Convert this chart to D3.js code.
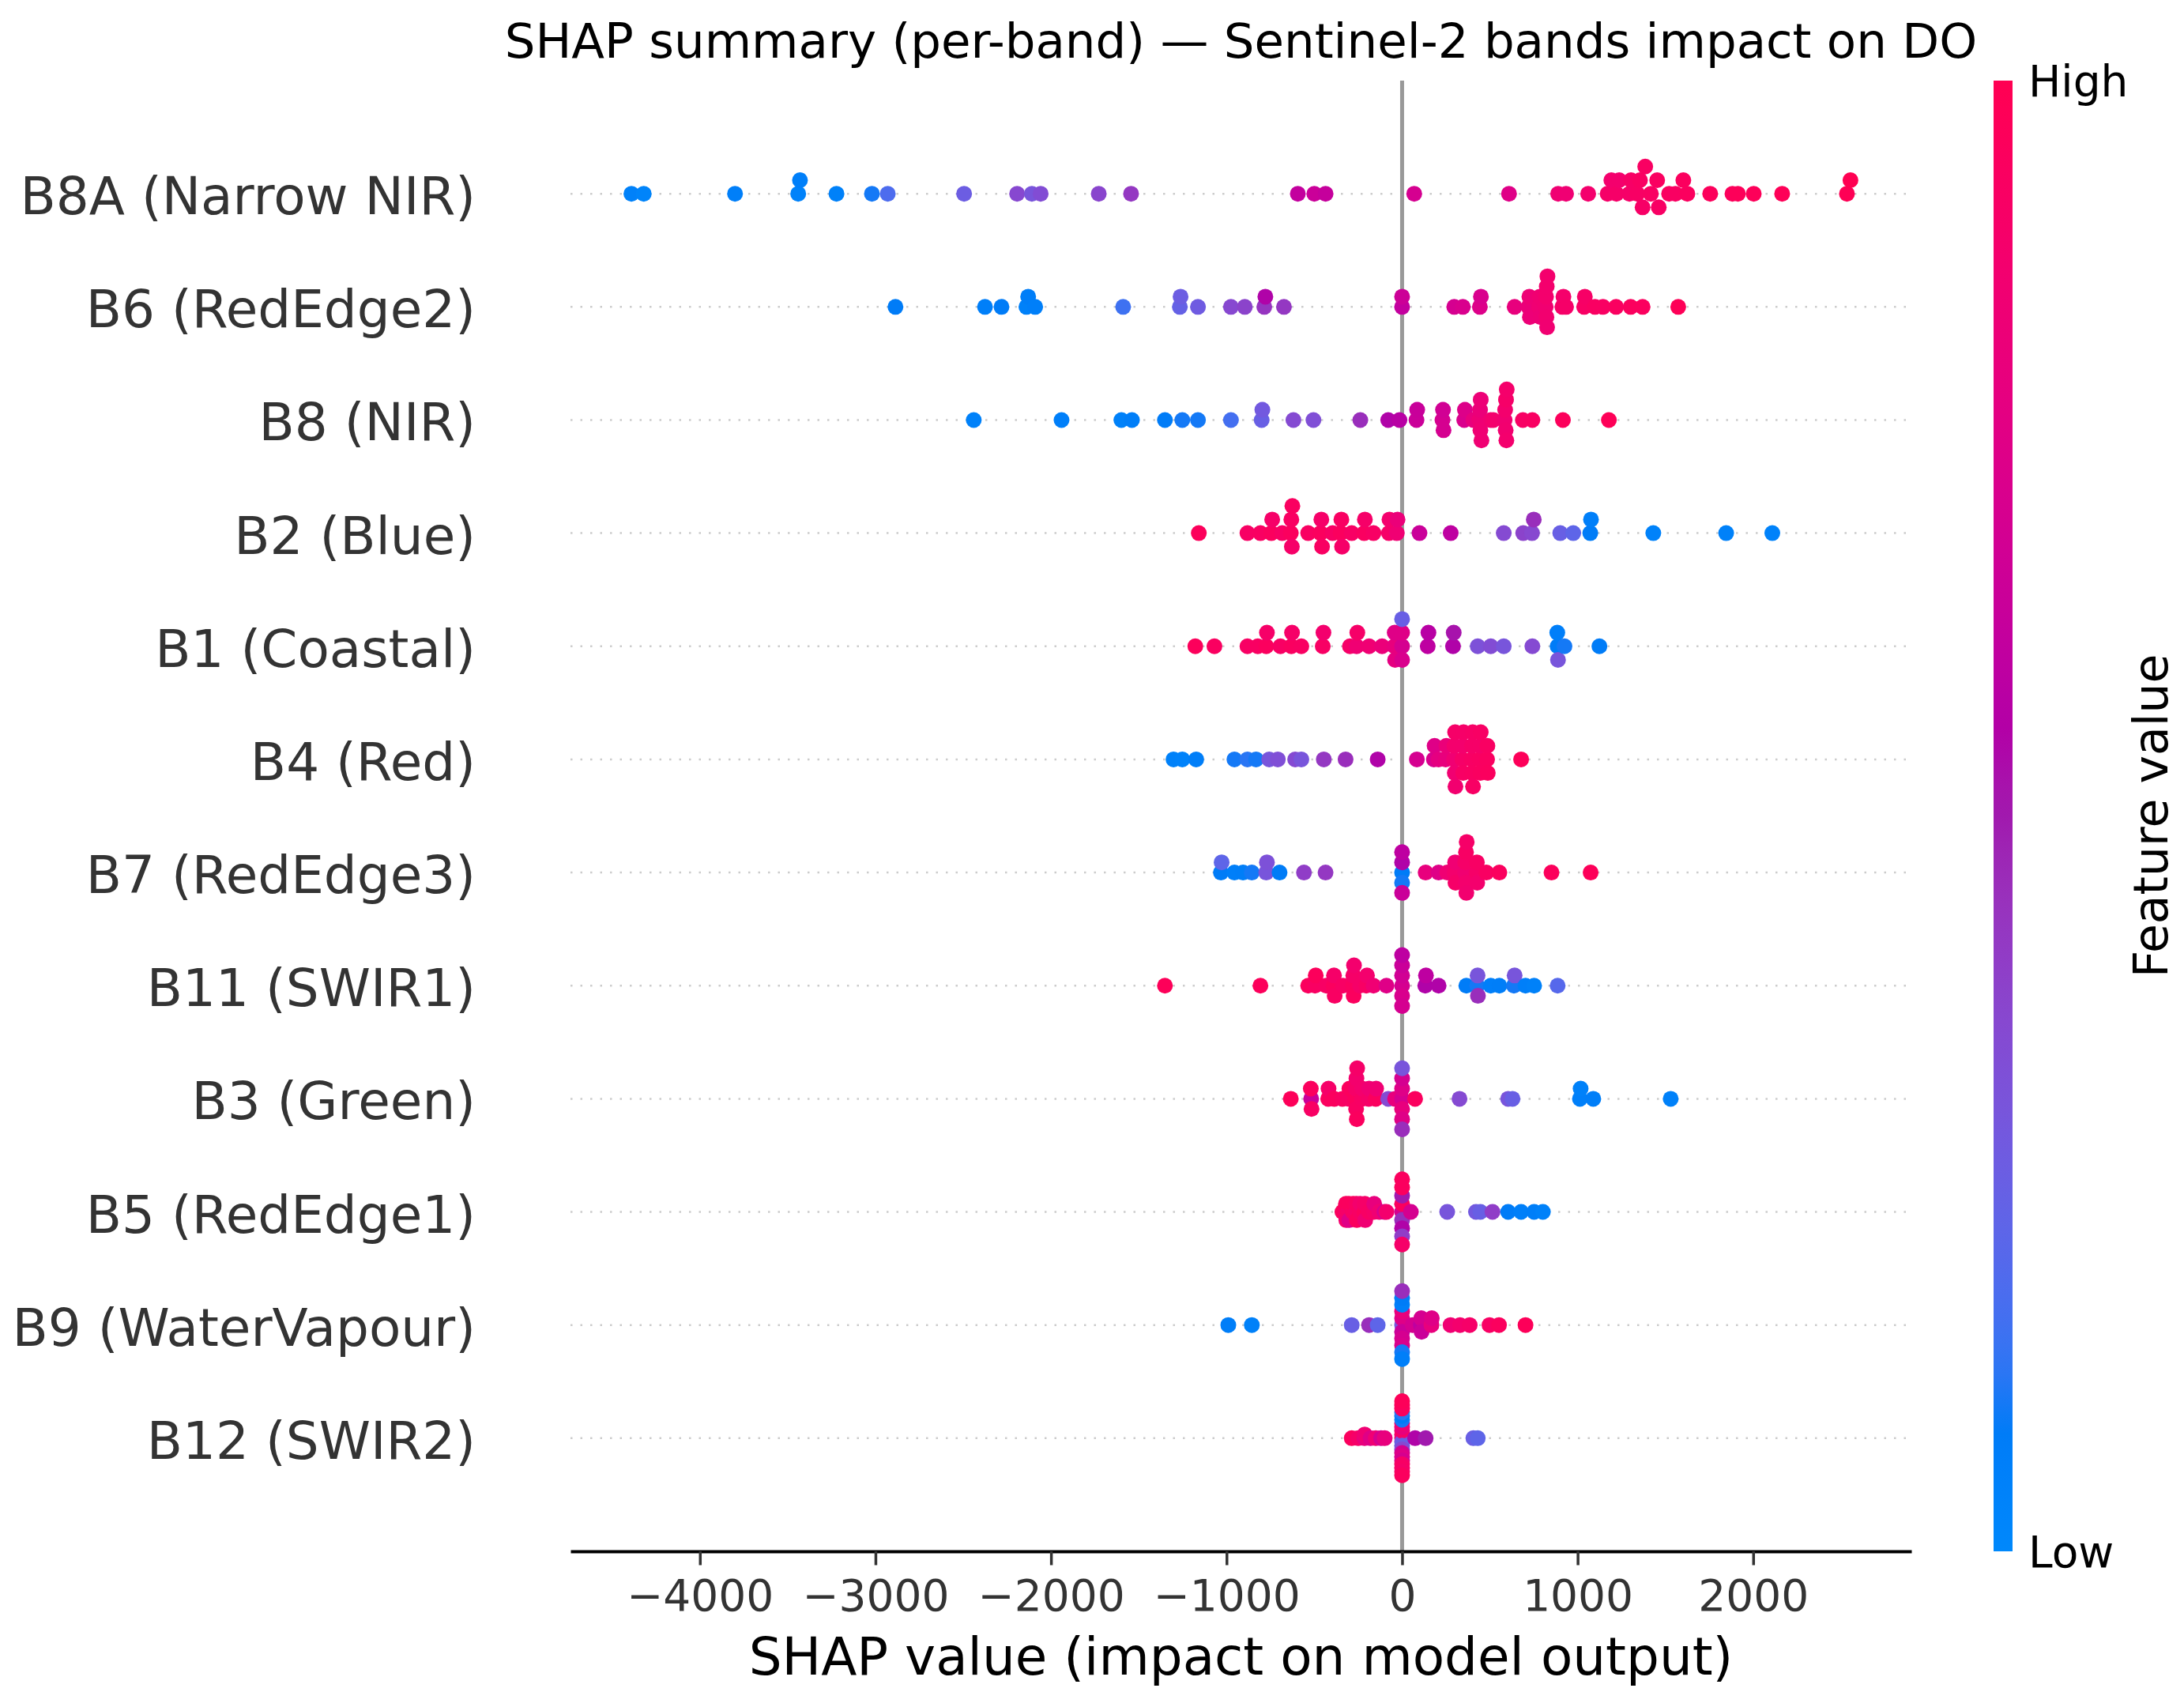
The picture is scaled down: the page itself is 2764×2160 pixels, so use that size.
<!DOCTYPE html>
<html>
<head>
<meta charset="utf-8">
<script src="https://cdn.jsdelivr.net/npm/d3@7"></script>
<style>
  body { margin: 0; background: #fff; }
  svg { display: block; }
  text { font-family: 'DejaVu Sans', sans-serif; }
</style>
</head>
<body>
<div id="chart"></div>
<script>
/* SHAP summary (beeswarm) — per-band SHAP values, Sentinel-2 bands vs DO.
   Each point: [shap value, normalised feature value 0..1]. */

const BANDS = [
  'B8A (Narrow NIR)', 'B6 (RedEdge2)', 'B8 (NIR)', 'B2 (Blue)',
  'B1 (Coastal)', 'B4 (Red)', 'B7 (RedEdge3)', 'B11 (SWIR1)',
  'B3 (Green)', 'B5 (RedEdge1)', 'B9 (WaterVapour)', 'B12 (SWIR2)'
];

const X_TICKS = [-4000, -3000, -2000, -1000, 0, 1000, 2000];
const COLORBAR_LABELS = ['Low', 'High'];

const B8A_POINTS = [
  [-4390, 0.05], [-4320, 0.03], [-3800, 0.06], [-3440, 0.04], [-3430, 0.06], [-3222, 0.05],
  [-3020, 0.1], [-2930, 0.18], [-2495, 0.26], [-2193, 0.36], [-2109, 0.3], [-2059, 0.34],
  [-1728, 0.37], [-1544, 0.42], [-594, 0.62], [-500, 0.65], [-436, 0.63], [69, 0.7],
  [609, 0.75], [889, 0.85], [934, 0.85], [1060, 0.88], [1171, 0.9], [1192, 0.88],
  [1221, 0.9], [1237, 0.88], [1295, 0.9], [1304, 0.91], [1340, 0.92], [1355, 0.93],
  [1370, 0.91], [1385, 0.93], [1417, 0.93], [1453, 0.94], [1462, 0.92], [1521, 0.94],
  [1557, 0.93], [1602, 0.95], [1625, 0.95], [1755, 0.96], [1882, 0.96], [1913, 0.97],
  [2003, 0.97], [2165, 0.98], [2534, 0.99], [2554, 1.0]
];

const B6_POINTS = [
  [-2886, 0.08], [-2376, 0.06], [-2282, 0.08], [-2140, 0.05], [-2130, 0.07], [-2090, 0.06],
  [-1589, 0.15], [-1266, 0.24], [-1262, 0.26], [-1163, 0.27], [-975, 0.36], [-896, 0.38],
  [-785, 0.43], [-779, 0.55], [-673, 0.42], [0, 0.62], [0, 0.66], [297, 0.7], [346, 0.72],
  [443, 0.74], [449, 0.72], [641, 0.8], [720, 0.82], [725, 0.84], [728, 0.83], [780, 0.85],
  [784, 0.86], [788, 0.84], [818, 0.86], [820, 0.88], [822, 0.87], [824, 0.88], [826, 0.86],
  [828, 0.88], [913, 0.9], [919, 0.89], [934, 0.9], [1037, 0.92], [1041, 0.91], [1099, 0.93],
  [1144, 0.93], [1219, 0.94], [1302, 0.95], [1370, 0.95], [1573, 0.98]
];

const B8_POINTS = [
  [-2440, 0.05], [-1940, 0.06], [-1599, 0.05], [-1539, 0.07], [-1351, 0.08], [-1252, 0.1],
  [-1163, 0.1], [-975, 0.16], [-800, 0.25], [-796, 0.28], [-619, 0.35], [-505, 0.33],
  [-238, 0.45], [-79, 0.55], [-15, 0.58], [82, 0.65], [86, 0.64], [230, 0.7], [233, 0.68],
  [236, 0.7], [354, 0.72], [358, 0.74], [406, 0.8], [440, 0.84], [444, 0.82], [446, 0.85],
  [448, 0.83], [452, 0.85], [505, 0.86], [520, 0.88], [584, 0.86], [587, 0.88], [590, 0.87],
  [592, 0.9], [594, 0.88], [596, 0.89], [688, 0.92], [742, 0.93], [916, 0.96], [1178, 0.98]
];

const B2_POINTS = [
  [-1158, 0.96], [-881, 0.92], [-807, 0.93], [-745, 0.95], [-740, 0.9], [-683, 0.92],
  [-634, 0.95], [-631, 0.93], [-628, 0.9], [-625, 0.94], [-535, 0.93], [-465, 0.95],
  [-460, 0.9], [-456, 0.93], [-396, 0.92], [-350, 0.95], [-346, 0.93], [-342, 0.9],
  [-287, 0.92], [-216, 0.94], [-212, 0.9], [-163, 0.92], [-75, 0.9], [-72, 0.88],
  [-30, 0.85], [-26, 0.82], [99, 0.65], [277, 0.6], [579, 0.35], [690, 0.38], [740, 0.36],
  [750, 0.45], [901, 0.25], [975, 0.22], [1072, 0.08], [1076, 0.06], [1431, 0.04],
  [1846, 0.05], [2109, 0.04]
];

const B1_POINTS = [
  [-1178, 0.96], [-1069, 0.94], [-881, 0.92], [-822, 0.93], [-774, 0.95], [-770, 0.9],
  [-693, 0.92], [-631, 0.94], [-627, 0.9], [-574, 0.93], [-452, 0.92], [-448, 0.88],
  [-297, 0.9], [-259, 0.85], [-255, 0.9], [-188, 0.85], [-114, 0.82], [-44, 0.8],
  [-42, 0.75], [-40, 0.78], [0, 0.7], [0, 0.75], [0, 0.72], [0, 0.25], [146, 0.6],
  [150, 0.58], [290, 0.55], [294, 0.52], [431, 0.32], [505, 0.34], [579, 0.3], [742, 0.35],
  [886, 0.08], [884, 0.06], [888, 0.3], [925, 0.1], [1124, 0.08]
];

const B4_POINTS = [
  [-1302, 0.05], [-1252, 0.04], [-1173, 0.07], [-955, 0.1], [-881, 0.12], [-832, 0.1],
  [-757, 0.3], [-708, 0.33], [-609, 0.35], [-574, 0.3], [-446, 0.42], [-322, 0.45],
  [-139, 0.55], [84, 0.7], [181, 0.72], [185, 0.75], [208, 0.78], [248, 0.8], [252, 0.82],
  [296, 0.85], [298, 0.88], [300, 0.86], [302, 0.9], [304, 0.87],
  [344, 0.9], [346, 0.88], [348, 0.92], [350, 0.9],
  [396, 0.92], [398, 0.9], [400, 0.93], [402, 0.91], [404, 0.92],
  [442, 0.93], [444, 0.9], [446, 0.94], [448, 0.92],
  [484, 0.94], [486, 0.93], [488, 0.95], [678, 0.97]
];

const B7_POINTS = [
  [-1032, 0.08], [-1028, 0.22], [-955, 0.06], [-906, 0.07], [-856, 0.1], [-774, 0.3],
  [-770, 0.32], [-698, 0.08], [-559, 0.4], [-436, 0.42],
  [0, 0.08], [0, 0.55], [0, 0.1], [0, 0.6], [0, 0.65],
  [134, 0.8], [208, 0.75], [257, 0.85], [300, 0.88], [302, 0.85], [304, 0.9],
  [358, 0.86], [360, 0.9], [362, 0.88], [364, 0.92], [366, 0.87], [368, 0.9],
  [424, 0.9], [426, 0.92], [428, 0.88], [480, 0.93], [554, 0.95], [851, 0.96], [1074, 0.97]
];

const B11_POINTS = [
  [-1351, 0.97], [-807, 0.96], [-535, 0.95], [-496, 0.93], [-492, 0.96], [-432, 0.92],
  [-390, 0.95], [-388, 0.9], [-384, 0.93], [-337, 0.92],
  [-280, 0.94], [-278, 0.9], [-276, 0.95], [-274, 0.88], [-240, 0.9],
  [-204, 0.92], [-200, 0.88], [-163, 0.85], [-89, 0.75],
  [0, 0.7], [0, 0.68], [0, 0.72], [0, 0.65], [0, 0.7], [0, 0.6],
  [132, 0.55], [136, 0.6], [208, 0.55], [366, 0.08], [428, 0.1], [430, 0.3], [432, 0.45],
  [505, 0.06], [554, 0.07], [637, 0.1], [641, 0.3], [703, 0.06], [752, 0.05], [886, 0.2]
];

const B3_POINTS = [
  [-634, 0.97], [-518, 0.65], [-520, 0.95], [-516, 0.92], [-421, 0.95], [-419, 0.9],
  [-386, 0.95], [-340, 0.93], [-302, 0.92], [-300, 0.95],
  [-266, 0.95], [-264, 0.9], [-262, 0.93], [-260, 0.88], [-258, 0.95], [-256, 0.9],
  [-230, 0.92], [-228, 0.88], [-190, 0.9], [-188, 0.85], [-150, 0.95], [-148, 0.85],
  [-79, 0.35], [-40, 0.8],
  [0, 0.7], [0, 0.75], [0, 0.8], [0, 0.7], [0, 0.75], [0, 0.3], [0, 0.45],
  [74, 0.95], [327, 0.35], [604, 0.3], [629, 0.25], [1013, 0.06], [1017, 0.05],
  [1089, 0.07], [1530, 0.05]
];

const B5_POINTS = [
  [-340, 0.95], [-322, 0.92], [-320, 0.95], [-318, 0.88], [-305, 0.9], [-303, 0.95],
  [-301, 0.75], [-281, 0.92], [-279, 0.95], [-262, 0.9], [-260, 0.93], [-258, 0.95],
  [-241, 0.92], [-239, 0.88], [-214, 0.95], [-212, 0.9], [-210, 0.85], [-190, 0.92],
  [-161, 0.9], [-159, 0.8], [-130, 0.85], [-100, 0.7], [-89, 0.88],
  [0, 0.7], [0, 0.95], [0, 0.45], [0, 0.5], [0, 0.55], [0, 0.95], [0, 0.4], [0, 0.95], [0, 0.9],
  [50, 0.7], [257, 0.3], [421, 0.28], [446, 0.25], [515, 0.4], [604, 0.08], [678, 0.06],
  [752, 0.07], [802, 0.05]
];

const B9_POINTS = [
  [-990, 0.07], [-856, 0.05], [-287, 0.25], [-188, 0.45], [-139, 0.22],
  [0, 0.3], [0, 0.75], [0, 0.65], [0, 0.8], [0, 0.7], [0, 0.06], [0, 0.72], [0, 0.08],
  [0, 0.1], [0, 0.45], [0, 0.06],
  [60, 0.7], [107, 0.6], [109, 0.7], [111, 0.65], [167, 0.8], [169, 0.75], [276, 0.85],
  [330, 0.88], [385, 0.9], [498, 0.92], [552, 0.95], [703, 0.97]
];

const B12_POINTS = [
  [-287, 0.95], [-250, 0.9], [-214, 0.8], [-213, 0.85], [-180, 0.75], [-150, 0.85],
  [-120, 0.7], [-99, 0.8],
  [0, 0.9], [0, 0.85], [0, 0.3], [0, 0.9], [0, 0.25], [0, 0.8], [0, 0.35], [0, 0.85],
  [0, 0.7], [0, 0.1], [0, 0.75], [0, 0.08], [0, 0.7], [0, 0.12], [0, 0.9], [0, 0.95],
  [0, 0.92], [0, 0.95], [0, 0.9], [0, 0.97], [0, 0.95],
  [74, 0.55], [134, 0.5], [406, 0.25], [431, 0.22]
];

const BAND_POINTS = [
  B8A_POINTS, B6_POINTS, B8_POINTS, B2_POINTS, B1_POINTS, B4_POINTS,
  B7_POINTS, B11_POINTS, B3_POINTS, B5_POINTS, B9_POINTS, B12_POINTS
];

(function () {
  const W = 2764, H = 2160;
  const plot = { left: 722, right: 2419, top: 102, bottom: 1963 };
  const ROW_HEIGHT = 0.4;
  const AXIS_GREY = '#333333';

  // shap's red_blue map: linear in LCh, lightness dips to 40 in the middle
  function shapColor(t) {
    const u = Math.max(0, Math.min(1, t));
    const l = u < 0.5 ? 54 - 14 * (u / 0.5) : 40 + 14 * ((u - 0.5) / 0.5);
    const c = 70 + 20 * u;
    const h = (4.6588 + (0.35470565 + 2 * Math.PI - 4.6588) * u) * 180 / Math.PI;
    return d3.hcl(h, c, l).formatHex();
  }

  // same binning/stacking as shap.summary_plot
  function swarmOffsets(vals) {
    const nbins = 100;
    const lo = d3.min(vals), hi = d3.max(vals);
    const quant = vals.map(v => Math.round(nbins * (v - lo) / (hi - lo + 1e-8)));
    const order = d3.range(vals.length).sort((a, b) => quant[a] - quant[b] || a - b);
    const ys = new Array(vals.length).fill(0);
    let layer = 0, last = -1;
    order.forEach(i => {
      if (quant[i] !== last) layer = 0;
      ys[i] = Math.ceil(layer / 2) * ((layer % 2) * 2 - 1);
      layer++;
      last = quant[i];
    });
    const top = d3.max(ys) + 1;
    return ys.map(y => y * 0.9 * ROW_HEIGHT / top);
  }

  const allVals = BAND_POINTS.flat().map(d => d[0]);
  const [vmin, vmax] = d3.extent(allVals);
  const pad = (vmax - vmin) * 0.05;

  const x = d3.scaleLinear().domain([vmin - pad, vmax + pad]).range([plot.left, plot.right]);
  const y = d3.scaleLinear().domain([-1, BANDS.length]).range([plot.bottom, plot.top]);

  const svg = d3.select('#chart')
    .append('svg')
    .attr('width', W)
    .attr('height', H)
    .attr('viewBox', `0 0 ${W} ${H}`);

  const rowPos = i => BANDS.length - 1 - i;

  // dotted row guides
  svg.append('g')
    .selectAll('line')
    .data(BANDS)
    .enter()
    .append('line')
    .attr('x1', plot.left).attr('x2', plot.right)
    .attr('y1', (d, i) => y(rowPos(i))).attr('y2', (d, i) => y(rowPos(i)))
    .attr('stroke', '#cccccc')
    .attr('stroke-width', 2.5)
    .attr('stroke-dasharray', '2.5,10');

  svg.append('line')
    .attr('x1', x(0)).attr('x2', x(0))
    .attr('y1', plot.top).attr('y2', plot.bottom)
    .attr('stroke', '#999999')
    .attr('stroke-width', 5);

  // beeswarm rows
  BAND_POINTS.forEach((pts, i) => {
    const offs = swarmOffsets(pts.map(d => d[0]));
    const pos = rowPos(i);
    svg.append('g')
      .selectAll('circle')
      .data(pts)
      .enter()
      .append('circle')
      .attr('cx', d => x(d[0]))
      .attr('cy', (d, j) => y(pos + offs[j]))
      .attr('r', 10)
      .attr('fill', d => shapColor(d[1]));
  });

  // band labels
  svg.append('g')
    .selectAll('text')
    .data(BANDS)
    .enter()
    .append('text')
    .attr('x', 602)
    .attr('y', (d, i) => y(rowPos(i)) + 26)
    .attr('text-anchor', 'end')
    .style('font-size', '66px')
    .style('fill', AXIS_GREY)
    .text(d => d);

  const xAxis = svg.append('g')
    .attr('transform', `translate(0,${plot.bottom})`)
    .call(d3.axisBottom(x)
      .tickValues(X_TICKS)
      .tickFormat(d3.format('d'))
      .tickSize(17.5)
      .tickSizeOuter(0)
      .tickPadding(18.5));
  xAxis.select('.domain').attr('stroke', '#000').attr('stroke-width', 4);
  xAxis.selectAll('.tick line').attr('stroke', AXIS_GREY).attr('stroke-width', 3.5);
  xAxis.selectAll('.tick text')
    .attr('fill', AXIS_GREY)
    .style('font-family', "'DejaVu Sans', sans-serif")
    .style('font-size', '55px');

  svg.append('text')
    .attr('x', (plot.left + plot.right) / 2)
    .attr('y', 2119)
    .attr('text-anchor', 'middle')
    .style('font-size', '66px')
    .style('fill', '#000')
    .text('SHAP value (impact on model output)');

  svg.append('text')
    .attr('x', (plot.left + plot.right) / 2)
    .attr('y', 73)
    .attr('text-anchor', 'middle')
    .style('font-size', '61px')
    .style('fill', '#000')
    .text('SHAP summary (per-band) — Sentinel-2 bands impact on DO');

  // colour bar
  const grad = svg.append('defs')
    .append('linearGradient')
    .attr('id', 'cbar')
    .attr('x1', 0).attr('y1', 1).attr('x2', 0).attr('y2', 0);
  grad.selectAll('stop')
    .data(d3.range(0, 1.0001, 0.02))
    .enter()
    .append('stop')
    .attr('offset', d => d)
    .attr('stop-color', d => shapColor(d));

  const cb = { x: 2523, w: 24 };
  svg.append('rect')
    .attr('x', cb.x).attr('y', plot.top)
    .attr('width', cb.w).attr('height', plot.bottom - plot.top)
    .attr('fill', 'url(#cbar)');

  const cbScale = d3.scaleLinear().domain([0, 1]).range([plot.bottom, plot.top]);
  svg.append('g')
    .selectAll('text')
    .data(COLORBAR_LABELS)
    .enter()
    .append('text')
    .attr('x', cb.x + cb.w + 20)
    .attr('y', (d, i) => cbScale(i) + 20)
    .style('font-size', '55px')
    .style('fill', '#000')
    .text(d => d);

  svg.append('text')
    .attr('transform', `translate(2743,${(plot.top + plot.bottom) / 2})rotate(-90)`)
    .attr('text-anchor', 'middle')
    .style('font-size', '60px')
    .style('fill', '#000')
    .text('Feature value');
})();
</script>
